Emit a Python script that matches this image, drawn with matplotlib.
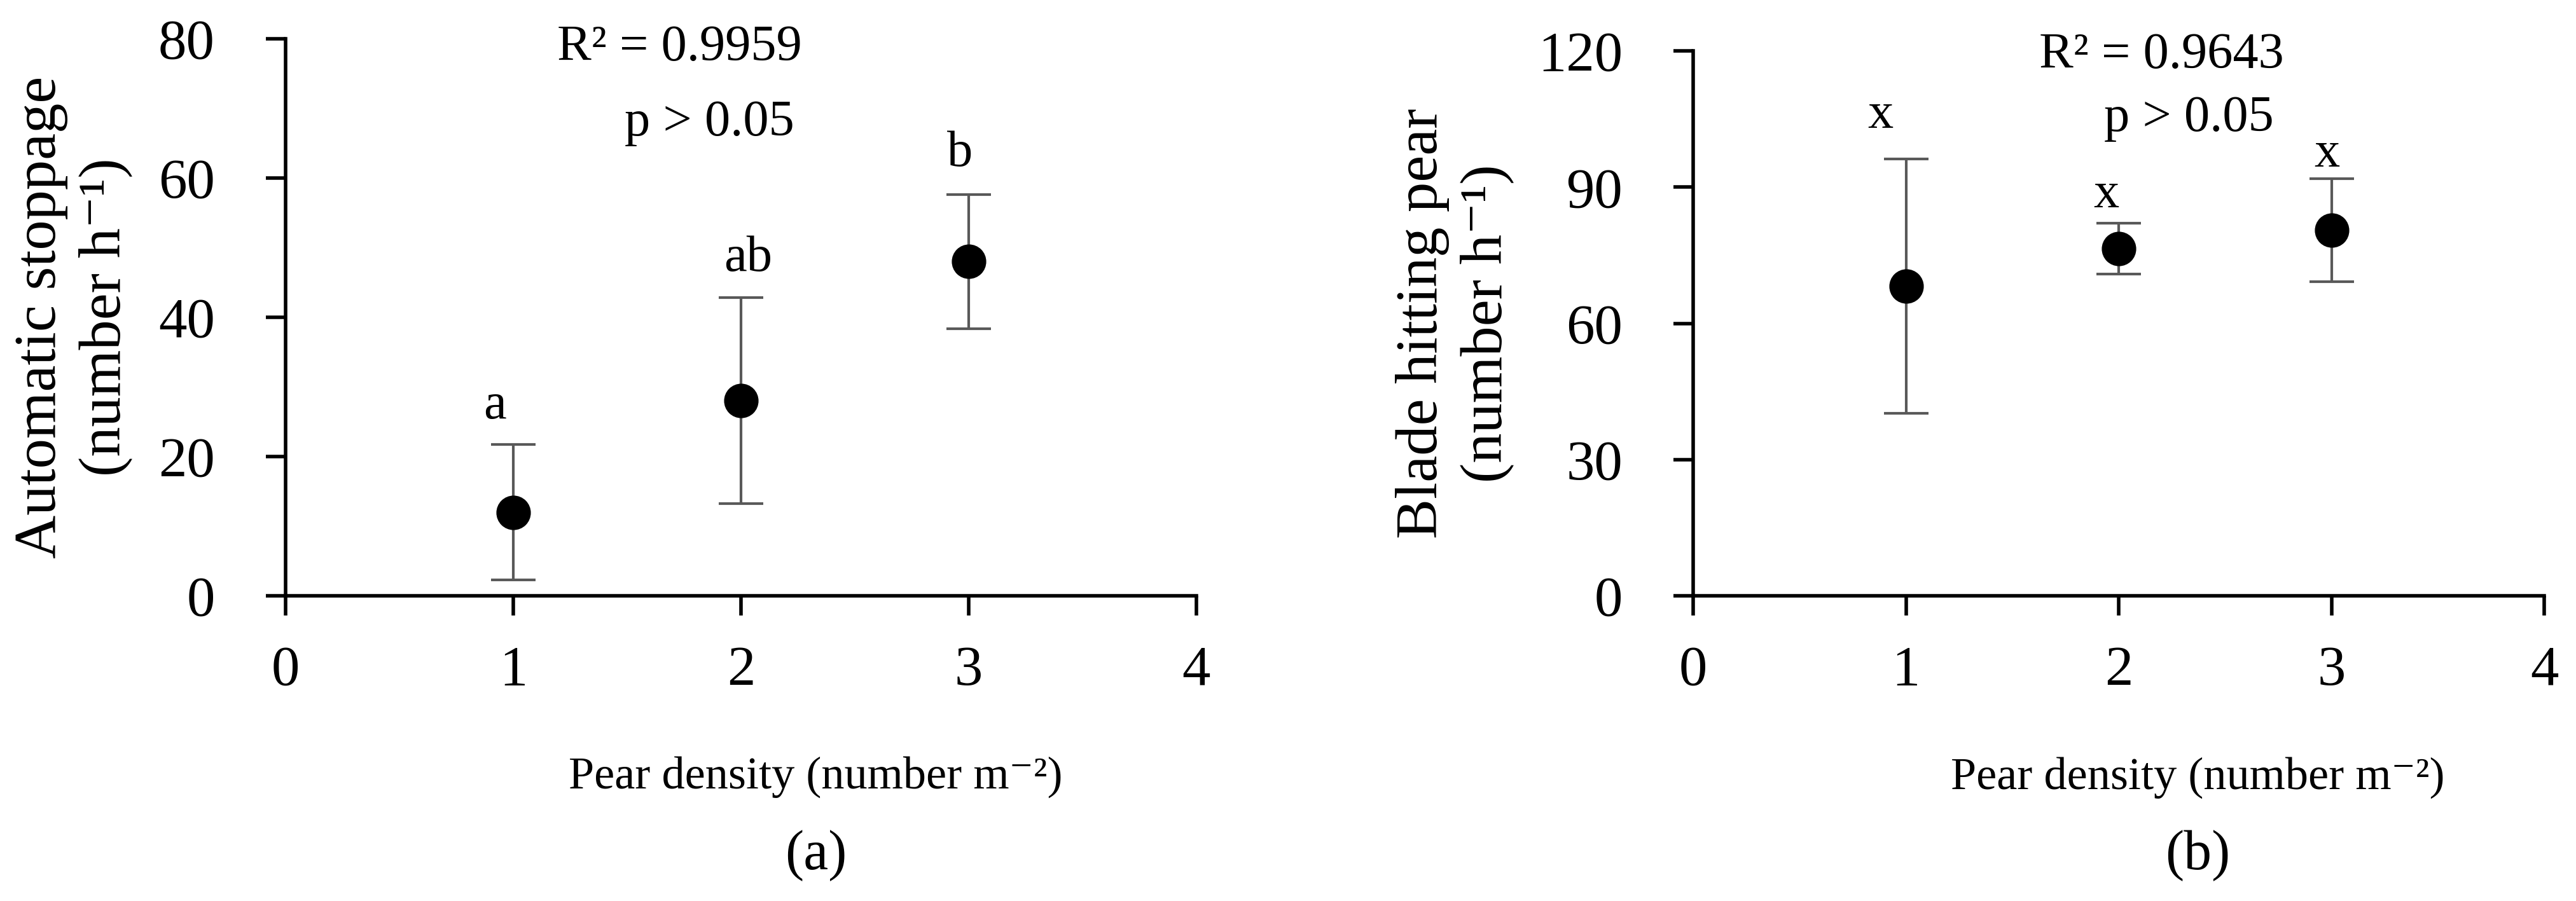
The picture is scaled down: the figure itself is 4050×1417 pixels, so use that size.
import matplotlib
matplotlib.use("Agg")
import matplotlib.pyplot as plt

plt.rcParams['font.family'] = ['Liberation Serif', 'DejaVu Serif']

# ---- data ----
density = [1, 2, 3]
stop_mean = [12.0, 28.0, 48.0]
stop_err = [9.7, 14.8, 9.6]
stop_letters = ['a', 'ab', 'b']
stop_letter_x = [0.92, 2.03, 2.96]
stop_letter_y = [25.5, 46.7, 61.7]

blade_mean = [68.2, 76.4, 80.5]
blade_err = [28.0, 5.6, 11.3]
blade_letters = ['x', 'x', 'x']
blade_letter_x = [0.88, 1.94, 2.98]
blade_letter_y = [103.0, 85.6, 94.5]

x_ticks = [0, 1, 2, 3, 4]
stop_ticks = [0, 20, 40, 60, 80]
blade_ticks = [0, 30, 60, 90, 120]

W, H = 4050, 1417
fig = plt.figure(figsize=(W / 100, H / 100), dpi=100)

axL = fig.add_axes([449 / W, 1 - 937 / H, (1881 - 449) / W, (937 - 61) / H])
axR = fig.add_axes([2662 / W, 1 - 937 / H, (4000 - 2662) / W, (937 - 80) / H])

TICK_FS = 64
YLAB_FS = 68
XLAB_FS = 52
TAG_FS = 63
ANN_FS = 58
ERR_COL = '#595959'


def style(ax, yticks):
    for s in ['top', 'right']:
        ax.spines[s].set_visible(False)
    for s in ['left', 'bottom']:
        ax.spines[s].set_linewidth(4)
        ax.spines[s].set_color('black')
    ax.set_xlim(0, 4)
    ax.set_ylim(yticks[0], yticks[-1])
    ax.set_xticks(x_ticks)
    ax.set_yticks(yticks)
    ax.tick_params(axis='both', direction='out', length=22, width=4,
                   labelsize=TICK_FS, color='black')
    ax.tick_params(axis='x', pad=34)
    ax.tick_params(axis='y', pad=58)


def panel(ax, mean, err, yticks, letters, lx, ly, r2, r2pos, ppos,
          ylab, ylab_x, xlab_pos, tag, tag_y):
    style(ax, yticks)
    ax.errorbar(density, mean, yerr=err, fmt='none', ecolor=ERR_COL,
                elinewidth=3, capsize=25, capthick=3, zorder=2)
    ax.plot(density, mean, 'o', color='black', markersize=38, zorder=3,
            clip_on=False)
    for t, x, y in zip(letters, lx, ly):
        ax.text(x, y, t, ha='center', va='baseline', fontsize=ANN_FS)
    ax.text(r2pos[0], r2pos[1], r2, ha='center', va='baseline', fontsize=ANN_FS)
    ax.text(ppos[0], ppos[1], 'p > 0.05', ha='center', va='baseline',
            fontsize=ANN_FS)
    ax.text(ylab_x, 0.5, ylab, rotation=90, ha='center', va='center',
            multialignment='center', fontsize=YLAB_FS, linespacing=1.25,
            transform=ax.transAxes)
    ax.text(xlab_pos[0], xlab_pos[1], 'Pear density (number m\u207b\u00b2)',
            ha='center', va='baseline', fontsize=XLAB_FS,
            transform=ax.transAxes)
    ax.text(xlab_pos[0], tag_y, tag, ha='center', va='baseline',
            fontsize=TAG_FS, transform=ax.transAxes)


panel(axL, stop_mean, stop_err, stop_ticks, stop_letters, stop_letter_x,
      stop_letter_y, 'R\u00b2 = 0.9959', (1.73, 76.9), (1.86, 66.1),
      'Automatic stoppage\n(number h\u207b\u00b9)', -0.233, (0.582, -0.346),
      '(a)', -0.491)
panel(axR, blade_mean, blade_err, blade_ticks, blade_letters, blade_letter_x,
      blade_letter_y, 'R\u00b2 = 0.9643', (2.2, 116.2), (2.33, 102.3),
      'Blade hitting pear\n(number h\u207b\u00b9)', -0.280, (0.593, -0.354),
      '(b)', -0.502)

fig.savefig('out.png', dpi=100, facecolor='white')
